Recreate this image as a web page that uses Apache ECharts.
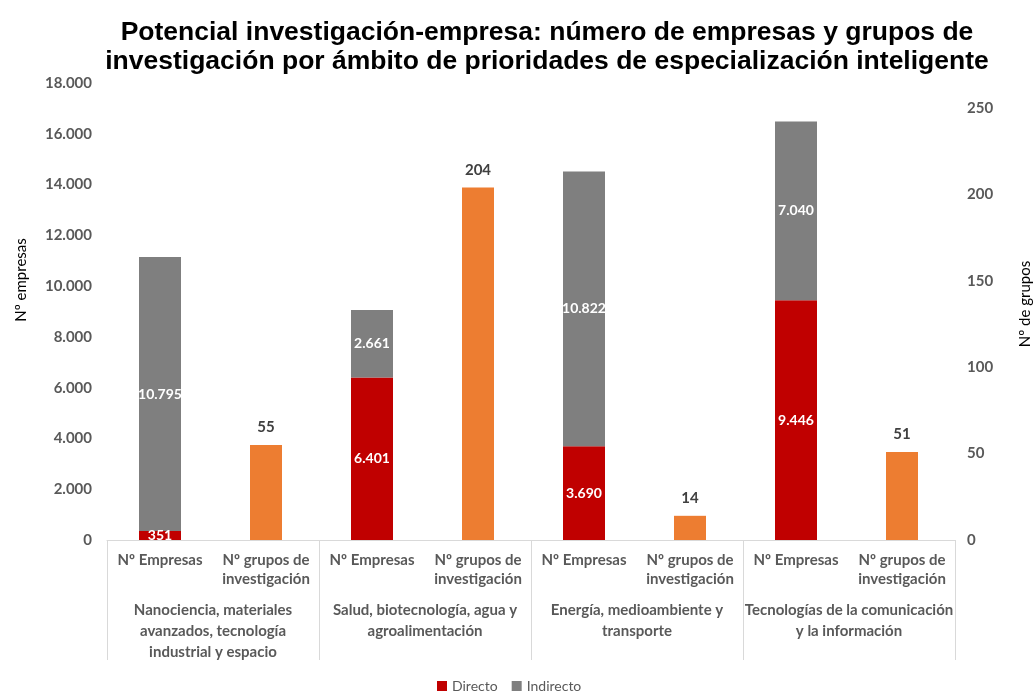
<!DOCTYPE html>
<html><head><meta charset="utf-8">
<script src="https://cdn.jsdelivr.net/npm/echarts@6/dist/echarts.min.js"></script>
<style>html,body{margin:0;padding:0;background:#fff}#c{width:1035px;height:691px}</style>
</head><body><div id="c"></div>
<script>
const subCategories = ['Nº Empresas','Nº grupos de\ninvestigación','Nº Empresas','Nº grupos de\ninvestigación','Nº Empresas','Nº grupos de\ninvestigación','Nº Empresas','Nº grupos de\ninvestigación'];
const groupCategories = ['Nanociencia, materiales\navanzados, tecnología\nindustrial y espacio','Salud, biotecnología, agua y\nagroalimentación','Energía, medioambiente y\ntransporte','Tecnologías de la comunicación\ny la información'];
const directo = [351, '-', 6401, '-', 3690, '-', 9446, '-'];
const indirecto = [10795, '-', 2661, '-', 10822, '-', 7040, '-'];
const grupos = ['-', 55, '-', 204, '-', 14, '-', 51];
const leftTicks = {min:0, max:18000, interval:2000};
const rightTicks = {min:0, max:264.5, interval:50};

const fmt = v => String(v).replace(/\B(?=(\d{3})+(?!\d))/g,'.');
const FONT = 'Lato, "Open Sans", sans-serif';
const chart = echarts.init(document.getElementById('c'));
chart.setOption({
  animation:false,
  title:{text:'Potencial investigación-empresa: número de empresas y grupos de\ninvestigación por ámbito de prioridades de especialización inteligente',
    left:542, textAlign:'center', top:13, textStyle:{fontFamily:'"Liberation Sans", Arial, sans-serif', fontSize:26.5, fontWeight:'bold', color:'#000', lineHeight:29}},
  legend:{data:['Directo','Indirecto'], left:432, top:674, icon:'rect', itemWidth:10, itemHeight:10, itemGap:14, itemTextGap:5,
    textStyle:{fontFamily:FONT, fontSize:14, color:'#595959'}},
  grid:{left:107, right:80, top:83, bottom:151},
  xAxis:[
    {type:'category', data:subCategories, position:'bottom',
      axisLine:{lineStyle:{color:'#d9d9d9'}}, axisTick:{show:false},
      axisLabel:{interval:0, margin:11, fontFamily:FONT, fontSize:15, fontWeight:'bold', color:'#595959', lineHeight:19}},
    {type:'category', data:subCategories, show:false},
    {type:'category', data:groupCategories, position:'bottom',
      axisLine:{show:false}, axisTick:{show:true, length:120, interval:0, lineStyle:{color:'#d9d9d9'}},
      axisLabel:{interval:0, margin:60, fontFamily:FONT, fontSize:15, fontWeight:'bold', color:'#595959', lineHeight:21}}
  ],
  yAxis:[
    {type:'value', min:leftTicks.min, max:leftTicks.max, interval:leftTicks.interval,
      splitLine:{show:false}, axisLine:{show:false}, axisTick:{show:false},
      axisLabel:{formatter:fmt, margin:15, fontFamily:FONT, fontSize:15, fontWeight:'bold', color:'#595959'}},
    {type:'value', min:rightTicks.min, max:rightTicks.max, interval:rightTicks.interval, position:'right',
      splitLine:{show:false}, axisLine:{show:false}, axisTick:{show:false},
      axisLabel:{formatter:v => (Math.abs(v % 50) < 1e-6 ? String(v) : ''), margin:12, fontFamily:FONT, fontSize:15, fontWeight:'bold', color:'#595959'}}
  ],
  graphic:[
    {type:'text', id:'ln', x:21, y:280, rotation:Math.PI/2, style:{text:'Nº empresas', fontSize:15, fontFamily:'Lato', fill:'#000', align:'center', verticalAlign:'middle'}},
    {type:'text', id:'rn', x:1025, y:304, rotation:Math.PI/2, style:{text:'Nº de grupos', fontSize:15, fontFamily:'Lato', fill:'#000', align:'center', verticalAlign:'middle'}}
  ],
  series:[
    {name:'Directo', type:'bar', stack:'e', xAxisIndex:0, yAxisIndex:0, data:directo, barWidth:42,
      itemStyle:{color:'#C00000'},
      label:{show:true, position:'inside', formatter:p=>fmt(p.value), color:'#fff', fontFamily:FONT, fontSize:14, fontWeight:'bold'}},
    {name:'Indirecto', type:'bar', stack:'e', xAxisIndex:0, yAxisIndex:0, data:indirecto, barWidth:42,
      itemStyle:{color:'#7F7F7F'},
      label:{show:true, position:'inside', formatter:p=>fmt(p.value), color:'#fff', fontFamily:FONT, fontSize:14, fontWeight:'bold'}},
    {name:'Grupos', type:'bar', xAxisIndex:1, yAxisIndex:1, data:grupos, barWidth:32,
      itemStyle:{color:'#ED7D31'},
      label:{show:true, position:'top', distance:10, color:'#404040', fontFamily:FONT, fontSize:15, fontWeight:'bold'}}
  ]
});
</script></body></html>
